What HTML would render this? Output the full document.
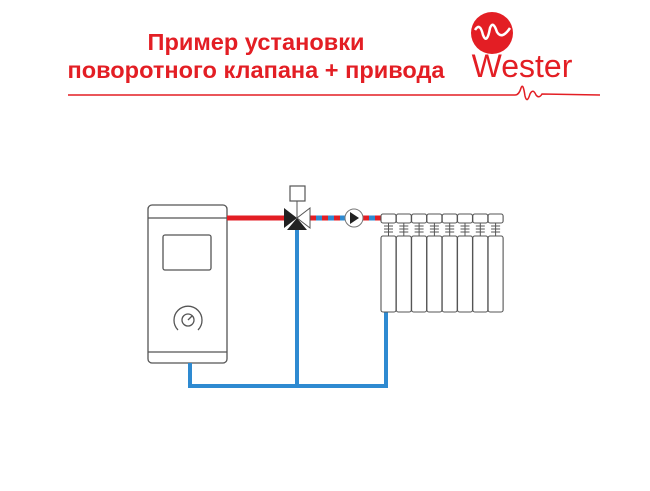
<!DOCTYPE html>
<html><head><meta charset="utf-8"><style>
body{margin:0;background:#fff;}
</style></head><body>
<svg width="650" height="486" viewBox="0 0 650 486" xmlns="http://www.w3.org/2000/svg">
<rect width="650" height="486" fill="#fff"/>
<g font-family="Liberation Sans, DejaVu Sans, sans-serif" font-weight="bold" fill="#e31e24" text-anchor="middle">
<text x="256" y="50" font-size="23.5" textLength="217" lengthAdjust="spacingAndGlyphs">Пример установки</text>
<text x="256" y="78" font-size="23.5" textLength="377" lengthAdjust="spacingAndGlyphs">поворотного клапана + привода</text>
</g>
<path d="M68 95 L515 95 Q519 95 521 88 Q523 82 525 96 Q527 104 530 94 Q533 88 536 95 Q539 99 542 94 L600 95" stroke="#e31e24" stroke-width="1.5" fill="none"/>
<circle cx="492" cy="33" r="21" fill="#e31e24"/>
<path d="M475 30 Q480 22 483 35 Q487 45 490 28 Q493 20 497 32 Q502 40 510 28" stroke="#fff" stroke-width="2.5" fill="none"/>
<text x="522" y="77" font-size="32" font-family="Liberation Sans, sans-serif" fill="#e31e24" text-anchor="middle">Wester</text>
<g stroke="#555" stroke-width="1.3" fill="#fff">
<rect x="148" y="205" width="79" height="158" rx="4"/>
<line x1="148" y1="218" x2="227" y2="218"/>
<line x1="148" y1="352" x2="227" y2="352"/>
<rect x="163" y="235" width="48" height="35" rx="2"/>
<path d="M178 330 A14 14 0 1 1 198 330" fill="none"/>
<circle cx="188" cy="320" r="6"/>
<line x1="188" y1="320" x2="192" y2="316"/>
</g>
<g fill="none" stroke-linecap="butt">
<line x1="227" y1="218" x2="286" y2="218" stroke="#e31e24" stroke-width="5"/>
<path d="M190 363 V386 H386 V312" stroke="#2e8ad1" stroke-width="4"/>
<line x1="297" y1="228" x2="297" y2="386" stroke="#2e8ad1" stroke-width="4"/>
<line x1="310" y1="218" x2="345" y2="218" stroke="#2e8ad1" stroke-width="5"/>
<line x1="310" y1="218" x2="345" y2="218" stroke="#e31e24" stroke-width="5" stroke-dasharray="6 6"/>
<line x1="363" y1="218" x2="381" y2="218" stroke="#2e8ad1" stroke-width="5"/>
<line x1="363" y1="218" x2="381" y2="218" stroke="#e31e24" stroke-width="5" stroke-dasharray="6 6"/>
</g>
<rect x="290" y="186" width="15" height="15" fill="#fff" stroke="#555" stroke-width="1.2"/>
<line x1="297" y1="201" x2="297" y2="218" stroke="#555"/>
<polygon points="284,208 297,218 284,228" fill="#222"/>
<polygon points="287,230 297,218 307,230" fill="#222"/>
<polygon points="310,208 297,218 310,228" fill="#fff" stroke="#555" stroke-width="1"/>
<circle cx="354" cy="218" r="9" fill="#fff" stroke="#777" stroke-width="1"/>
<polygon points="350,212 359,218 350,224" fill="#222"/>
<g stroke="#555" stroke-width="1.1" fill="#fff">
<rect x="381" y="214" width="15" height="9" rx="2"/>
<rect x="396.3" y="214" width="15" height="9" rx="2"/>
<rect x="411.6" y="214" width="15" height="9" rx="2"/>
<rect x="426.9" y="214" width="15" height="9" rx="2"/>
<rect x="442.2" y="214" width="15" height="9" rx="2"/>
<rect x="457.5" y="214" width="15" height="9" rx="2"/>
<rect x="472.8" y="214" width="15" height="9" rx="2"/>
<rect x="488.1" y="214" width="15" height="9" rx="2"/>
<rect x="381" y="236" width="15" height="76" rx="2"/>
<rect x="396.3" y="236" width="15" height="76" rx="2"/>
<rect x="411.6" y="236" width="15" height="76" rx="2"/>
<rect x="426.9" y="236" width="15" height="76" rx="2"/>
<rect x="442.2" y="236" width="15" height="76" rx="2"/>
<rect x="457.5" y="236" width="15" height="76" rx="2"/>
<rect x="472.8" y="236" width="15" height="76" rx="2"/>
<rect x="488.1" y="236" width="15" height="76" rx="2"/>
</g>
<g stroke="#555" stroke-width="1">
<path d="M388.5 223V236M403.8 223V236M419.1 223V236M434.4 223V236M449.7 223V236M465 223V236M480.3 223V236M495.6 223V236"/>
<path d="M384 226H503M384 229H503M384 232H503" stroke-dasharray="9 6.3"/>
</g>
</svg>
</body></html>
